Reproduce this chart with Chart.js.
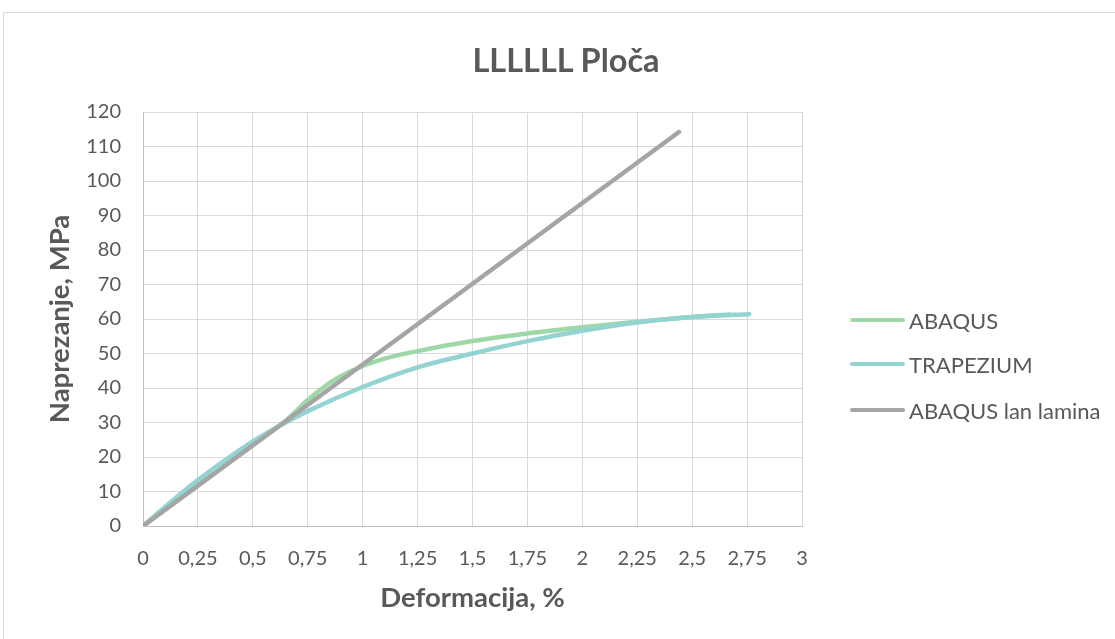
<!DOCTYPE html>
<html>
<head>
<meta charset="utf-8">
<script src="https://cdn.jsdelivr.net/npm/chart.js@4"></script>
<style>
  html, body { margin: 0; padding: 0; background: #fff; overflow: hidden; }
  #wrap { position: relative; width: 1115px; height: 639px; }
  #frame { position: absolute; left: 3px; top: 12px; width: 1200px; height: 700px; border: 1px solid #d9d9d9; }
  #chart { position: absolute; left: 0; top: 0; }
  #title { position: absolute; left: 366px; width: 400px; top: 40px; height: 40px; line-height: 40px; text-align: center;
           font-family: Lato, sans-serif; font-weight: bold; font-size: 32.5px; color: #595959; }
  #legend { position: absolute; left: 850px; top: 0; font-family: Lato, sans-serif; font-size: 22px; color: #595959; }
  .leg-item { position: absolute; left: 0; display: flex; align-items: center; white-space: nowrap; height: 24px; }
  .leg-line { width: 55px; height: 4px; border-radius: 2px; margin-right: 4px; }
</style>
</head>
<body>
<div id="wrap">
  <div id="frame"></div>
  <canvas id="chart" width="1115" height="639"></canvas>
  <div id="title">LLLLLL Ploča</div>
  <div id="legend"></div>
</div>
<script>
/* ── Data ──────────────────────────────────────────── */
const seriesNames  = ["ABAQUS", "TRAPEZIUM", "ABAQUS lan lamina"];
const seriesColors = ["#9fd8a8", "#93d3d2", "#a5a5a5"];

const abaqusX = [0, 0.25, 0.5, 0.65, 0.75, 0.85, 0.95, 1.1, 1.25, 1.5, 1.75, 2.0, 2.25, 2.5, 2.67];
const abaqusY = [0, 11.7, 23.4, 30.5, 36.5, 41.5, 45, 48.5, 50.7, 53.6, 55.8, 57.6, 59.2, 60.6, 61.3];

const trapX = [0, 0.15, 0.25, 0.5, 0.62, 0.75, 1.0, 1.25, 1.5, 1.75, 2.0, 2.25, 2.5, 2.76];
const trapY = [0, 8.2, 13.3, 24.5, 29, 33.3, 40.3, 46, 50, 53.6, 56.6, 59, 60.6, 61.4];

const laminaX = [0, 2.44];
const laminaY = [0, 114.2];

const xTickLabels = ["0", "0,25", "0,5", "0,75", "1", "1,25", "1,5", "1,75", "2", "2,25", "2,5", "2,75", "3"];
const yTickLabels = ["0", "10", "20", "30", "40", "50", "60", "70", "80", "90", "100", "110", "120"];

const pts = (xs, ys) => xs.map((x, i) => ({ x, y: ys[i] }));

/* ── Chart ─────────────────────────────────────────── */
const txt = "#595959";
const grid = "#d9d9d9";

new Chart(document.getElementById("chart"), {
  type: "line",
  data: {
    datasets: [
      { label: seriesNames[0], data: pts(abaqusX, abaqusY), borderColor: seriesColors[0], order: 2 },
      { label: seriesNames[1], data: pts(trapX, trapY),     borderColor: seriesColors[1], order: 1 },
      { label: seriesNames[2], data: pts(laminaX, laminaY), borderColor: seriesColors[2], order: 0 },
    ]
  },
  options: {
    responsive: false,
    animation: false,
    elements: {
      point: { radius: 0 },
      line: { borderWidth: 4.5, tension: 0.4, cubicInterpolationMode: "monotone", borderCapStyle: "round", borderJoinStyle: "round", fill: false }
    },
    layout: { padding: { left: 43.5, right: 313, top: 112, bottom: 20 } },
    plugins: {
      legend: { display: false },
      tooltip: { enabled: false },
      title: { display: false }
    },
    scales: {
      x: {
        type: "linear", min: 0, max: 3,
        afterFit: s => { s.height = 93; },
        grid: { color: grid, drawTicks: false },
        border: { color: "#bfbfbf" },
        ticks: { stepSize: 0.25, padding: 21, color: txt, font: { family: "Lato", size: 20 },
                 maxRotation: 0, autoSkip: false, callback: (v, i) => xTickLabels[i] },
        title: { display: true, text: "Deformacija, %", color: txt,
                 font: { family: "Lato", size: 27.5, weight: "bold" }, padding: { top: 0, bottom: 4.5 } }
      },
      y: {
        min: 0, max: 120,
        afterFit: s => { s.width = 99.5; },
        grid: { color: grid, drawTicks: false },
        border: { color: "#bfbfbf" },
        ticks: { stepSize: 10, padding: 22, color: txt, font: { family: "Lato", size: 20 },
                 callback: (v, i) => yTickLabels[i] },
        title: { display: true, text: "Naprezanje, MPa", color: txt,
                 font: { family: "Lato", size: 27.5, weight: "bold" }, padding: { top: 0, bottom: 0 } }
      }
    }
  }
});

/* ── HTML legend ───────────────────────────────────── */
const legendTops = [308, 352, 398];
document.getElementById("legend").innerHTML = seriesNames.map((n, i) =>
  `<div class="leg-item" style="top:${legendTops[i]}px">
     <span class="leg-line" style="background:${seriesColors[i]}"></span><span>${n}</span>
   </div>`).join("");
</script>
</body>
</html>
